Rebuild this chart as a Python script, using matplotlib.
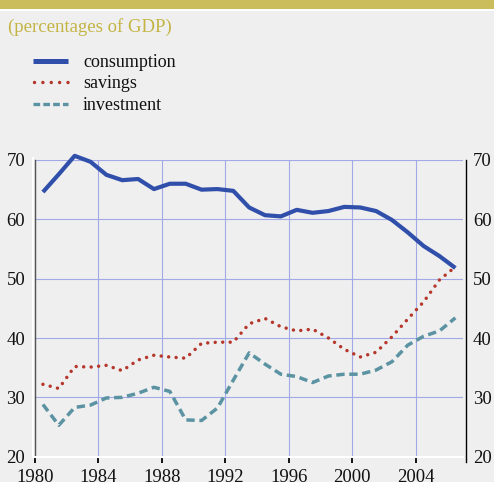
import matplotlib
matplotlib.use("Agg")
import matplotlib.pyplot as plt
from matplotlib.lines import Line2D
from matplotlib.patches import Rectangle
import matplotlib.transforms as mtransforms
import numpy as np

# ---------------- data ----------------
years = list(range(1980, 2007))
consumption = [64.6, 67.6, 70.7, 69.7, 67.5, 66.6, 66.8, 65.1, 66.0, 66.0,
               65.0, 65.1, 64.8, 62.0, 60.7, 60.5, 61.6, 61.1, 61.4, 62.1,
               62.0, 61.4, 59.9, 57.8, 55.5, 53.8, 51.8]
savings = [32.2, 31.5, 35.2, 35.1, 35.4, 34.5, 36.3, 37.1, 36.8, 36.6,
           39.1, 39.3, 39.3, 42.4, 43.3, 41.9, 41.2, 41.5, 40.0, 38.1,
           36.8, 37.6, 40.2, 43.2, 46.1, 49.8, 52.0]
investment = [28.8, 25.3, 28.3, 28.7, 29.9, 30.0, 30.7, 31.7, 31.0, 26.2,
              26.1, 28.2, 32.9, 37.5, 35.6, 33.9, 33.5, 32.5, 33.6, 33.9,
              33.9, 34.6, 36.0, 38.8, 40.3, 41.2, 43.4]
series_labels = ["consumption", "savings", "investment"]
title_text = "(percentages of GDP)"
x_ticks = [1980, 1984, 1988, 1992, 1996, 2000, 2004]
y_ticks = [20, 30, 40, 50, 60, 70]

# ---------------- style ----------------
BG = "#efefef"
GOLD = "#cbbd5c"
TITLE_C = "#c3b444"
BLUE = "#2f4faa"
RED = "#b5372b"
TEAL = "#5b93a3"
GRID = "#a3a9e6"
FONT = "Liberation Serif"

W, H = 494, 482
fig = plt.figure(figsize=(W / 100, H / 100), dpi=100, facecolor=BG)

def fx(px):
    return px / W

def fy(py):
    return 1 - py / H

# top band
fig.patches.append(Rectangle((0, fy(8.5)), 1, 1 - fy(8.5), transform=fig.transFigure,
                             facecolor=GOLD, edgecolor="none"))
fig.patches.append(Rectangle((0, fy(11)), 1, fy(8.5) - fy(11), transform=fig.transFigure,
                             facecolor="white", edgecolor="none"))

fig.text(fx(8), fy(32), title_text, color=TITLE_C, fontsize=13.5, family=FONT,
         ha="left", va="baseline")

# axes
left, right, top, bottom = 35, 463.3, 160, 456.7
ax = fig.add_axes([fx(left), fy(bottom), fx(right - left), fy(top) - fy(bottom)])
ax.set_facecolor(BG)

x = np.array(years) + 0.5
ax.plot(x, investment, color=TEAL, lw=2.5, linestyle=(0, (2.4, 1.35)),
        dash_capstyle="butt", clip_on=False, zorder=3)
ax.plot(x, savings, color=RED, lw=2.5, linestyle=(0, (0.01, 2.15)),
        dash_capstyle="round", clip_on=False, zorder=4)
ax.plot(x, consumption, color=BLUE, lw=3.0, solid_capstyle="butt",
        solid_joinstyle="round", clip_on=False, zorder=3)

ax.set_xlim(1980, 2007)
ax.set_ylim(20, 70)
ax.set_xticks(x_ticks)
ax.set_xticklabels([str(t) for t in x_ticks])
ax.set_yticks(y_ticks)
ax.set_yticklabels([str(t) for t in y_ticks])
ax.grid(True, color=GRID, lw=0.8, zorder=1)
ax.set_axisbelow(True)

for lab in ax.get_xticklabels() + ax.get_yticklabels():
    lab.set_family(FONT)
    lab.set_fontsize(13.5)
    lab.set_color("#111111")

ax.tick_params(axis="y", left=False, right=False, length=0, labelleft=True,
               labelright=True, pad=7)
ax.tick_params(axis="x", direction="out", length=4, width=1.3, color="black", pad=4.5)
for t in ax.yaxis.get_major_ticks():
    t.label2.set_family(FONT)
    t.label2.set_fontsize(13.5)
    t.label2.set_color("#111111")

ax.spines["top"].set_visible(False)
ax.spines["right"].set_visible(False)
ax.spines["bottom"].set_color("white")
ax.spines["bottom"].set_linewidth(1.5)
ax.spines["left"].set_color("#555555")
ax.spines["left"].set_linewidth(1.0)

# white edge left of left spine
off = mtransforms.ScaledTranslation(-1.6 / 100, 0, fig.dpi_scale_trans)
ax.add_line(Line2D([0, 0], [0, 1.006], transform=ax.transAxes + off, color="white",
                   lw=1.4, clip_on=False, zorder=5))
# right axis line
fig.add_artist(Line2D([fx(466.3), fx(466.3)], [fy(462), fy(160)], color="black", lw=1.0))

# legend (manual)
rows = [61, 82, 104]
lx0, lx1 = 33, 68
fig.add_artist(Line2D([fx(lx0), fx(lx1)], [fy(rows[0])] * 2, color=BLUE, lw=3.6,
                      solid_capstyle="butt"))
fig.add_artist(Line2D([fx(lx0 + 1), fx(lx1)], [fy(rows[1])] * 2, color=RED, lw=2.5,
                      linestyle=(0, (0.01, 2.4)), dash_capstyle="round"))
fig.add_artist(Line2D([fx(lx0), fx(lx1)], [fy(rows[2])] * 2, color=TEAL, lw=2.4,
                      linestyle=(0, (2.0, 0.95)), dash_capstyle="butt"))
for r, lab in zip(rows, series_labels):
    fig.text(fx(83), fy(r + 5.7), lab, fontsize=13, family=FONT, color="#111111",
             ha="left", va="baseline")

fig.savefig("out.png", dpi=100, facecolor=BG)
